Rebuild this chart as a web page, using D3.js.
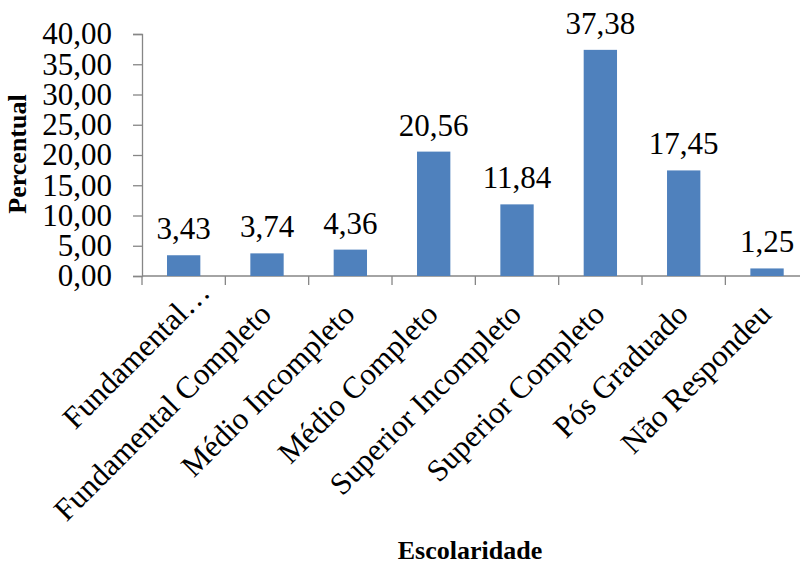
<!DOCTYPE html>
<html>
<head>
<meta charset="utf-8">
<script src="https://cdn.jsdelivr.net/npm/d3@7"></script>
<style>
  html, body { margin: 0; padding: 0; background: #fff; }
  svg text { font-family: "Liberation Serif", "Times New Roman", serif; }
</style>
</head>
<body>
<svg id="chart" width="800" height="566"></svg>
<script>
// Escolaridade dos respondentes (percentual)
const categories = [
  "Fundamental…",
  "Fundamental Completo",
  "Médio Incompleto",
  "Médio Completo",
  "Superior Incompleto",
  "Superior Completo",
  "Pós Graduado",
  "Não Respondeu"
];
const values = [3.43, 3.74, 4.36, 20.56, 11.84, 37.38, 17.45, 1.25];
const yTicks = [0, 5, 10, 15, 20, 25, 30, 35, 40];

const fmt = v => d3.format(".2f")(v).replace(".", ",");

const svg = d3.select("#chart");
const plot = { left: 142, right: 808.7, top: 34, bottom: 276 };
const axisColor = "#868686";
const barColor = "#4F81BD";
const fontSize = 31;

const x = d3.scaleBand()
  .domain(categories)
  .range([plot.left, plot.right])
  .paddingInner(0.6)
  .paddingOuter(0.3);

const y = d3.scaleLinear()
  .domain([0, 40])
  .range([plot.bottom, plot.top]);

// Y axis
const yAxis = svg.append("g")
  .attr("transform", `translate(${plot.left},0)`)
  .call(d3.axisLeft(y).tickValues(yTicks).tickSize(9).tickPadding(21).tickFormat(fmt));
yAxis.attr("font-family", null);
yAxis.select(".domain").attr("stroke", axisColor).attr("stroke-width", 1.3);
yAxis.selectAll(".tick line").attr("stroke", axisColor).attr("stroke-width", 1.3);
yAxis.selectAll(".tick text")
  .attr("font-size", fontSize)
  .attr("fill", "#000");

// X axis line with ticks between categories
const step = x.step();
const boundaries = d3.range(categories.length + 1).map(i => plot.left + i * step);
svg.append("line")
  .attr("x1", plot.left).attr("x2", plot.right)
  .attr("y1", y(0)).attr("y2", y(0))
  .attr("stroke", axisColor).attr("stroke-width", 1.3);
svg.selectAll(".xtick").data(boundaries).enter().append("line")
  .attr("class", "xtick")
  .attr("x1", d => d).attr("x2", d => d)
  .attr("y1", y(0)).attr("y2", y(0) + 9)
  .attr("stroke", axisColor).attr("stroke-width", 1.3);

// Bars
svg.selectAll(".bar").data(values).enter().append("rect")
  .attr("class", "bar")
  .attr("x", (d, i) => x(categories[i]))
  .attr("width", x.bandwidth())
  .attr("y", d => y(d))
  .attr("height", d => y(0) - y(d))
  .attr("fill", barColor);

// Value labels
svg.selectAll(".val").data(values).enter().append("text")
  .attr("class", "val")
  .attr("x", (d, i) => x(categories[i]) + x.bandwidth() / 2)
  .attr("y", d => y(d) - 16)
  .attr("text-anchor", "middle")
  .attr("font-size", fontSize)
  .attr("fill", "#000")
  .text(d => fmt(d));

// Category labels, rotated; a trailing ellipsis hangs past the anchor point
const catG = svg.selectAll(".cat").data(categories).enter().append("g")
  .attr("class", "cat")
  .attr("transform", d => `translate(${x(d) + x.bandwidth() / 2 + 6},${y(0) + 40}) rotate(-45)`);
catG.append("text")
  .attr("text-anchor", "end")
  .attr("font-size", fontSize)
  .attr("fill", "#000")
  .text(d => d.endsWith("…") ? d.slice(0, -1) : d);
catG.filter(d => d.endsWith("…")).append("text")
  .attr("text-anchor", "start")
  .attr("font-size", fontSize)
  .attr("fill", "#000")
  .text("…");

// Axis titles
svg.append("text")
  .attr("transform", `translate(26,154) rotate(-90)`)
  .attr("text-anchor", "middle")
  .attr("font-size", 26)
  .attr("font-weight", "bold")
  .text("Percentual");

svg.append("text")
  .attr("x", 470).attr("y", 559)
  .attr("text-anchor", "middle")
  .attr("font-size", 26)
  .attr("font-weight", "bold")
  .text("Escolaridade");
</script>
</body>
</html>
